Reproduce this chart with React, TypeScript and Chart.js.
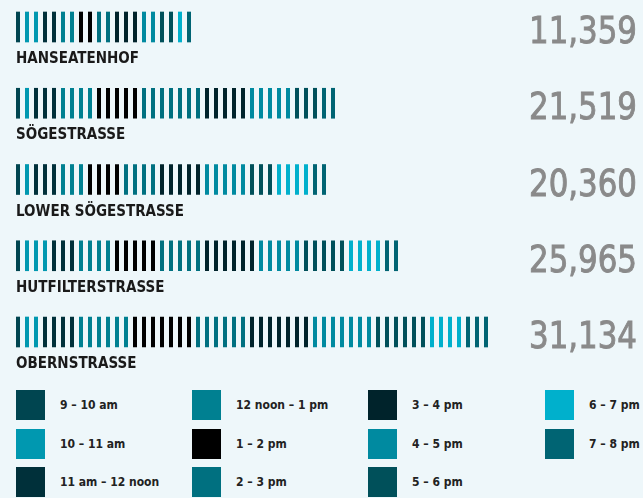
import React, { useEffect, useRef } from "react";
import { Chart, registerables } from "chart.js";

Chart.register(...registerables);

// Streets (rows)
const streets = ["HANSEATENHOF", "SÖGESTRASSE", "LOWER SÖGESTRASSE", "HUTFILTERSTRASSE", "OBERNSTRASSE"];
// Total pedestrians per street (labels on the right)
const totals = [11359, 21519, 20360, 25965, 31134];

// Hour slots (stack segments)
const hours = [
  "9 – 10 am",
  "10 – 11 am",
  "11 am – 12 noon",
  "12 noon – 1 pm",
  "1 – 2 pm",
  "2 – 3 pm",
  "3 – 4 pm",
  "4 – 5 pm",
  "5 – 6 pm",
  "6 – 7 pm",
  "7 – 8 pm",
];

// Number of stripes (each stripe ≈ 600 pedestrians) per hour, per street
const h09 = [1, 1, 1, 1, 1];
const h10 = [2, 1, 1, 3, 2];
const h11 = [2, 3, 3, 3, 4];
const h12 = [2, 4, 3, 4, 6];
const h13 = [2, 5, 4, 5, 7];
const h14 = [2, 7, 4, 5, 6];
const h15 = [3, 5, 5, 6, 7];
const h16 = [2, 5, 5, 5, 7];
const h17 = [2, 3, 3, 5, 6];
const h18 = [1, 0, 4, 4, 4];
const h19 = [1, 2, 2, 2, 3];
const hourValues = [h09, h10, h11, h12, h13, h14, h15, h16, h17, h18, h19];

const hourColors = [
  "#004550",
  "#0098b0",
  "#00303a",
  "#008091",
  "#000000",
  "#007080",
  "#00232b",
  "#008aa0",
  "#00505a",
  "#00b0cc",
  "#006473",
];

const BG = "#eef7fa";
const UNIT = 9; // px per stripe
const MAXUNITS = 60;

function makePattern(color: string): CanvasPattern | string {
  const c = document.createElement("canvas");
  c.width = UNIT;
  c.height = 4;
  const ctx = c.getContext("2d")!;
  ctx.fillStyle = color;
  ctx.fillRect(2, 0, 4, 4);
  const p = ctx.createPattern(c, "repeat");
  return p || color;
}

export default function App() {
  const ref = useRef<HTMLCanvasElement>(null);

  useEffect(() => {
    document.body.style.margin = "0";
    const canvas = ref.current!;
    const patterns = hourColors.map(makePattern);

    const alignPlugin = {
      id: "alignPatterns",
      beforeDatasetsDraw(chart: any) {
        const x0 = chart.scales.x.getPixelForValue(0);
        patterns.forEach((p: any) => {
          if (p && p.setTransform) p.setTransform(new DOMMatrix([1, 0, 0, 1, x0, 0]));
        });
      },
    };

    const labelsPlugin = {
      id: "streetLabels",
      afterDatasetsDraw(chart: any) {
        const ctx = chart.ctx;
        const ys = chart.scales.y;
        ctx.save();
        streets.forEach((s, i) => {
          const y = ys.getPixelForValue(i);
          ctx.fillStyle = "#1a1a1a";
          ctx.font = "bold 15px 'DejaVu Sans Condensed', 'DejaVu Sans', sans-serif";
          ctx.textAlign = "left";
          ctx.textBaseline = "alphabetic";
          ctx.fillText(s, 16, y + 36);
          ctx.fillStyle = "#8a8a8a";
          ctx.strokeStyle = "#8a8a8a";
          ctx.lineWidth = 0.9;
          ctx.font = "38px 'DejaVu Sans Condensed', 'DejaVu Sans', sans-serif";
          ctx.textAlign = "right";
          const t = totals[i].toLocaleString("en-US");
          ctx.fillText(t, 637, y + 16, 108);
          ctx.strokeText(t, 637, y + 16, 108);
        });
        ctx.restore();
      },
    };

    const chart = new Chart(canvas, {
      type: "bar",
      data: {
        labels: streets,
        datasets: hours.map((h, k) => ({
          label: h,
          data: hourValues[k],
          backgroundColor: patterns[k] as any,
          borderWidth: 0,
          barThickness: 30,
          clip: false as any,
        })),
      },
      options: {
        indexAxis: "y",
        animation: false,
        responsive: false,
        maintainAspectRatio: false,
        layout: { padding: { left: 14, right: 643 - 14 - UNIT * MAXUNITS, top: 27, bottom: 48 } },
        plugins: { legend: { display: false }, tooltip: { enabled: false } },
        scales: {
          x: { stacked: true, display: false, min: 0, max: MAXUNITS },
          y: { stacked: true, display: false, offset: false },
        },
      },
      plugins: [alignPlugin, labelsPlugin],
    });
    return () => chart.destroy();
  }, []);

  return (
    <div style={{ position: "relative", width: 643, height: 498, background: BG, overflow: "hidden" }}>
      <canvas ref={ref} width={643} height={380} style={{ position: "absolute", left: 0, top: 0, width: 643, height: 380 }} />
      {hours.map((h, i) => {
        const col = Math.floor(i / 3);
        const row = i % 3;
        const left = [16, 192, 368, 545][col];
        const top = [390, 429, 467][row];
        return (
          <div key={h} style={{ position: "absolute", left, top, height: 30, display: "flex", alignItems: "center" }}>
            <div style={{ width: 29, height: 30, background: hourColors[i] }} />
            <span
              style={{
                marginLeft: 15,
                fontFamily: "'DejaVu Sans Condensed', 'DejaVu Sans', sans-serif",
                fontWeight: "bold",
                fontSize: 12,
                color: "#222",
                whiteSpace: "nowrap",
              }}
            >
              {h}
            </span>
          </div>
        );
      })}
    </div>
  );
}
